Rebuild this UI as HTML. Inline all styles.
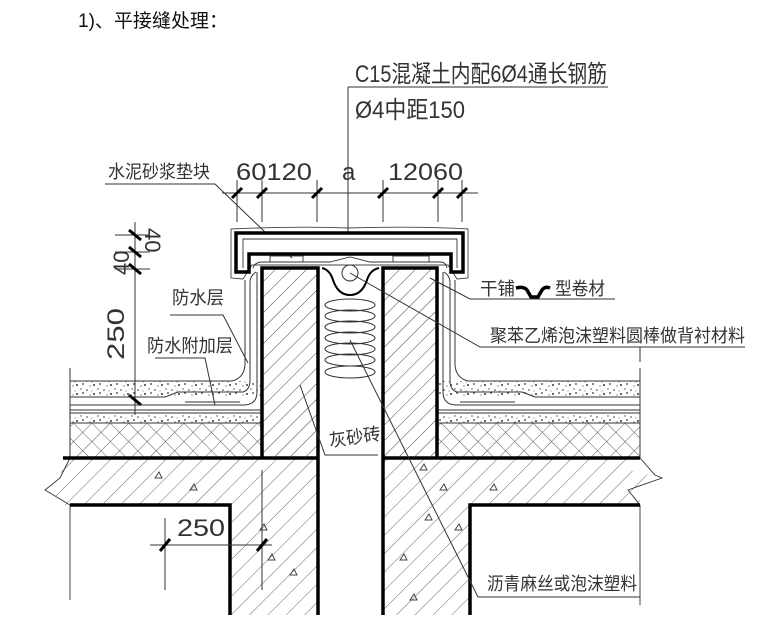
<!DOCTYPE html>
<html><head><meta charset="utf-8"><style>
html,body{margin:0;padding:0;background:#fff;}
svg{display:block;}
text{font-family:"Liberation Sans","Noto Sans CJK SC",sans-serif;fill:#333;}
</style></head><body>
<svg width="777" height="640" viewBox="0 0 777 640" xmlns="http://www.w3.org/2000/svg">
<defs>
<pattern id="hat" width="11" height="11" patternUnits="userSpaceOnUse" patternTransform="rotate(45)">
<line x1="0" y1="0" x2="0" y2="11" stroke="#333" stroke-width="0.9"/></pattern>
<pattern id="hat2" width="13" height="13" patternUnits="userSpaceOnUse" patternTransform="rotate(45)">
<line x1="0" y1="0" x2="0" y2="13" stroke="#444" stroke-width="0.8"/></pattern>
<pattern id="cross" width="13" height="13" patternUnits="userSpaceOnUse" patternTransform="rotate(45)">
<line x1="0" y1="0" x2="0" y2="13" stroke="#333" stroke-width="0.8"/><line x1="0" y1="0" x2="13" y2="0" stroke="#333" stroke-width="0.8"/></pattern>
<pattern id="dots" width="17" height="9" patternUnits="userSpaceOnUse">
<circle cx="2" cy="3" r="0.8" fill="#333"/><circle cx="9" cy="7" r="1" fill="#333"/><circle cx="13" cy="2" r="0.7" fill="#444"/><circle cx="15" cy="6" r="0.9" fill="#333"/><circle cx="5" cy="8" r="0.6" fill="#444"/><circle cx="7" cy="4" r="0.5" fill="#444"/></pattern>
</defs>
<text x="78" y="27" font-size="19" textLength="150" lengthAdjust="spacingAndGlyphs" font-family="Liberation Serif,'Noto Serif CJK SC',serif" style="fill:#111">1)、平接缝处理：</text>

<!-- top labels -->
<text x="355" y="82" font-size="24" textLength="252" lengthAdjust="spacingAndGlyphs">C15混凝土内配6Ø4通长钢筋</text>
<line x1="348" y1="87" x2="608" y2="87" stroke="#333"/>
<text x="355" y="118" font-size="24" textLength="110" lengthAdjust="spacingAndGlyphs">Ø4中距150</text>
<line x1="348" y1="87" x2="348" y2="248" stroke="#333"/>

<!-- dimension top -->
<line x1="222" y1="193" x2="478" y2="193" stroke="#333"/>
<g stroke="#333">
<line x1="237" y1="180" x2="237" y2="222"/><line x1="262" y1="180" x2="262" y2="222"/><line x1="317" y1="180" x2="317" y2="222"/>
<line x1="383" y1="180" x2="383" y2="222"/><line x1="438" y1="180" x2="438" y2="222"/><line x1="462" y1="180" x2="462" y2="222"/>
</g>
<g stroke="#000" stroke-width="3">
<line x1="232" y1="198" x2="242" y2="188"/><line x1="257" y1="198" x2="267" y2="188"/><line x1="312" y1="198" x2="322" y2="188"/>
<line x1="378" y1="198" x2="388" y2="188"/><line x1="433" y1="198" x2="443" y2="188"/><line x1="457" y1="198" x2="467" y2="188"/>
</g>
<text x="236" y="180" font-size="24" textLength="76" lengthAdjust="spacingAndGlyphs">60120</text>
<text x="342" y="180" font-size="24">a</text>
<text x="388" y="180" font-size="24" textLength="75" lengthAdjust="spacingAndGlyphs">12060</text>
<text x="108" y="178" font-size="18" textLength="102" lengthAdjust="spacingAndGlyphs">水泥砂浆垫块</text>
<polyline points="105,184 215,184 292,258" fill="none" stroke="#333"/>

<!-- left vertical dims -->
<line x1="135" y1="222" x2="135" y2="415" stroke="#333"/>
<g stroke="#333"><line x1="115" y1="235" x2="150" y2="235"/><line x1="115" y1="252" x2="150" y2="252"/><line x1="115" y1="269" x2="150" y2="269"/></g>
<g stroke="#000" stroke-width="3">
<line x1="129" y1="230" x2="141" y2="240"/><line x1="129" y1="247" x2="141" y2="257"/><line x1="129" y1="264" x2="141" y2="274"/><line x1="129" y1="395" x2="141" y2="405"/></g>
<text transform="translate(129,275) rotate(-90)" font-size="22">40</text>
<text transform="translate(145,228) rotate(90)" font-size="22">40</text>
<text transform="translate(124,360) rotate(-90)" font-size="24" textLength="52" lengthAdjust="spacingAndGlyphs">250</text>

<!-- layers left -->
<rect x="70" y="381" width="192" height="16" fill="url(#dots)"/>
<rect x="70" y="413" width="192" height="10" fill="url(#dots)"/>
<rect x="70" y="423" width="192" height="35" fill="url(#cross)"/>
<g stroke="#333" fill="none">
<line x1="70" y1="381" x2="232" y2="381"/><line x1="70" y1="397" x2="165" y2="397"/>
<line x1="70" y1="410" x2="262" y2="410"/><line x1="70" y1="413" x2="262" y2="413"/><line x1="70" y1="423" x2="262" y2="423"/>
<line x1="70" y1="368" x2="70" y2="458"/>
<path d="M165,397 L178,392 L243,392 Q250,390 250,380 L250,282 Q250,276 256,272"/>
<path d="M232,381 Q244,378 245,365 L245,280"/>
<path d="M70,405 L245,405 Q257,404 257,392 L257,272"/>
<line x1="185" y1="402" x2="240" y2="402"/>
</g>
<!-- layers right -->
<rect x="437" y="381" width="203" height="16" fill="url(#dots)"/>
<rect x="437" y="413" width="203" height="10" fill="url(#dots)"/>
<rect x="437" y="423" width="203" height="35" fill="url(#cross)"/>
<g stroke="#333" fill="none">
<line x1="468" y1="381" x2="640" y2="381"/><line x1="535" y1="397" x2="640" y2="397"/>
<line x1="437" y1="410" x2="640" y2="410"/><line x1="437" y1="413" x2="640" y2="413"/><line x1="437" y1="423" x2="640" y2="423"/>
<line x1="640" y1="368" x2="640" y2="458"/>
<path d="M535,397 L522,392 L457,392 Q450,390 450,380 L450,282 Q450,276 444,272"/>
<path d="M468,381 Q456,378 455,365 L455,280"/>
<path d="M640,405 L455,405 Q443,404 443,392 L443,272"/>
<line x1="460" y1="402" x2="515" y2="402"/>
</g>

<!-- slab -->
<path d="M63,458 L318,458 L318,615 L230,615 L230,505 L63,505 L55,495 L45,490 L60,478 Z" fill="url(#hat2)"/>
<path d="M383,458 L640,458 L628,470 L662,478 L640,490 L640,505 L470,505 L470,615 L383,615 Z" fill="url(#hat2)"/>
<g fill="none" stroke="#333" stroke-width="0.9">
<path d="M70,458 L60,478 L45,490 L70,505"/>
<path d="M640,458 L655,475 L662,478 L628,490 L640,505"/>
<line x1="70" y1="505" x2="70" y2="600"/><line x1="640" y1="505" x2="640" y2="605"/>
</g>
<g fill="none" stroke="#000" stroke-width="3.5">
<polyline points="63,458 318,458"/><polyline points="383,458 640,458"/>
<polyline points="70,505 230,505 230,615"/><polyline points="640,505 470,505 470,615"/>
</g>
<g fill="none" stroke="#444">
<path d="M155,478 l4,-6 l3,6 z M190,490 l4,-6 l3,6z M260,530 l4,-6 l3,6z M268,560 l4,-6 l3,6z M290,575 l4,-6 l3,6z M420,470 l4,-6 l3,6z M440,490 l4,-6 l3,6z M425,520 l4,-6 l3,6z M400,560 l4,-6 l3,6z M455,530 l4,-6 l3,6z M410,600 l4,-6 l3,6z M490,490 l4,-6 l3,6z M335,245 l4,-6 l3,6z"/>
</g>

<!-- walls -->
<rect x="262" y="268" width="56" height="190" fill="url(#hat)"/>
<rect x="383" y="268" width="54" height="190" fill="url(#hat)"/>
<g fill="none" stroke="#000" stroke-width="3.5">
<polyline points="262,458 262,268 318,268 318,615"/>
<polyline points="437,458 437,268 383,268 383,615"/>
</g>

<!-- cap -->
<path d="M231,229 Q300,226 348,228 Q420,226 468,229 L468,278 L457,279 L448,265 L252,265 L243,279 L231,278 Z" fill="none" stroke="#444" stroke-width="0.9"/>
<path d="M236,233 H463 V272 H451 V254 H249 V272 H236 Z" fill="#fff" stroke="#000" stroke-width="3.5"/>
<path d="M243,268 V239 H457 V268" fill="none" stroke="#333" stroke-width="0.9"/>
<rect x="270" y="256" width="33" height="6" fill="none" stroke="#333" stroke-width="0.9"/>
<rect x="393" y="256" width="36" height="6" fill="none" stroke="#333" stroke-width="0.9"/>
<path d="M253,268 Q255,262 262,262 L330,262 L350,257 L370,262 L440,262 Q446,262 447,268" fill="none" stroke="#333" stroke-width="0.9"/>
<path d="M322,268 Q330,270 333,280 Q338,295 350,295 Q362,295 367,280 Q370,270 379,268" fill="none" stroke="#000" stroke-width="2"/>
<circle cx="350" cy="273" r="8" fill="#fff" stroke="#333"/>
<g fill="none" stroke="#333" stroke-width="1">
<ellipse cx="350" cy="305" rx="25" ry="6"/><ellipse cx="350" cy="316" rx="25" ry="6"/><ellipse cx="350" cy="327" rx="25" ry="6"/>
<ellipse cx="350" cy="338" rx="25" ry="6"/><ellipse cx="350" cy="349" rx="25" ry="6"/><ellipse cx="350" cy="360" rx="25" ry="6"/><ellipse cx="350" cy="372" rx="25" ry="6"/>
</g>

<!-- labels -->
<text x="172" y="304" font-size="18" textLength="52" lengthAdjust="spacingAndGlyphs">防水层</text>
<polyline points="170,315 223,315 248,363" fill="none" stroke="#333"/>
<text x="147" y="352" font-size="18" textLength="86" lengthAdjust="spacingAndGlyphs">防水附加层</text>
<polyline points="155,358 205,358 215,405" fill="none" stroke="#333"/>
<text x="480" y="295" font-size="18" textLength="35" lengthAdjust="spacingAndGlyphs">干铺</text>
<path d="M516,288 Q524,286 527,290 L531,297 L538,297 L542,290 Q545,286 550,288" fill="none" stroke="#000" stroke-width="3.5"/>
<text x="555" y="295" font-size="18" textLength="50" lengthAdjust="spacingAndGlyphs">型卷材</text>
<polyline points="430,278 470,299 615,299" fill="none" stroke="#333"/>
<text x="490" y="342" font-size="18" textLength="255" lengthAdjust="spacingAndGlyphs">聚苯乙烯泡沫塑料圆棒做背衬材料</text>
<polyline points="350,273 480,347 745,347" fill="none" stroke="#333"/>
<line x1="640" y1="347" x2="640" y2="362" stroke="#333"/>
<text transform="translate(330,447) rotate(-8)" font-size="18" textLength="52" lengthAdjust="spacingAndGlyphs">灰砂砖</text>
<polyline points="300,385 325,455 378,455" fill="none" stroke="#333"/>
<polyline points="350,340 478,597 640,597" fill="none" stroke="#333"/>
<text x="487" y="590" font-size="18" textLength="150" lengthAdjust="spacingAndGlyphs">沥青麻丝或泡沫塑料</text>

<!-- bottom dim 250 -->
<line x1="150" y1="545" x2="272" y2="545" stroke="#333"/>
<line x1="165" y1="518" x2="165" y2="590" stroke="#333"/>
<line x1="262" y1="470" x2="262" y2="590" stroke="#333"/>
<g stroke="#000" stroke-width="3"><line x1="160" y1="551" x2="170" y2="539"/><line x1="257" y1="551" x2="267" y2="539"/></g>
<text x="177" y="536" font-size="24" textLength="48" lengthAdjust="spacingAndGlyphs">250</text>
</svg>
</body></html>
